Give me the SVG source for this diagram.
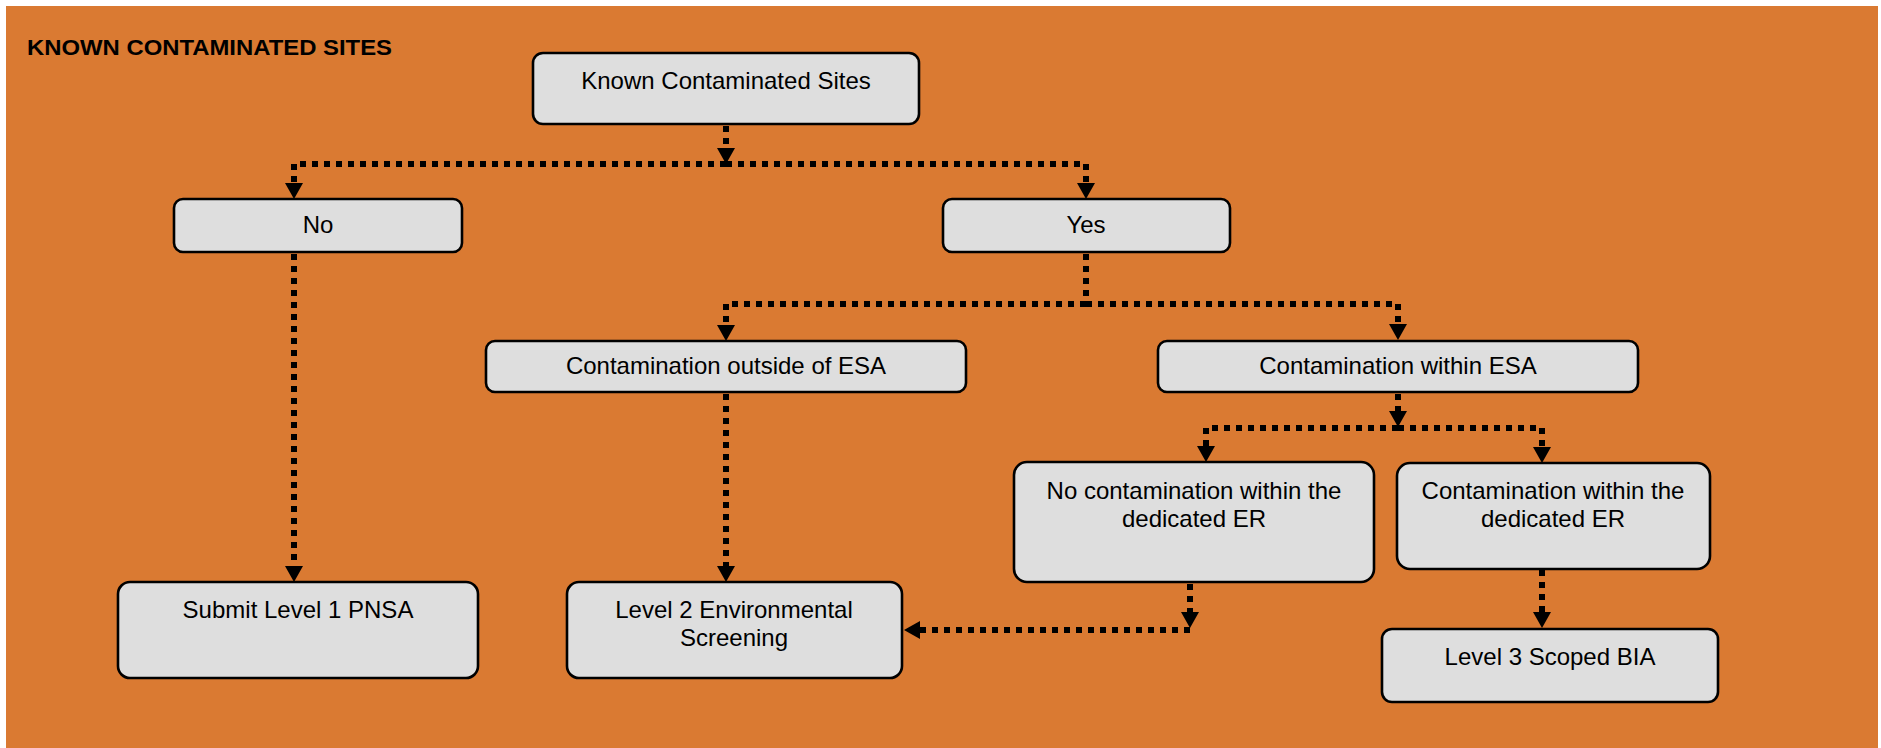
<svg xmlns="http://www.w3.org/2000/svg" width="1881" height="748" viewBox="0 0 1881 748">
<style>
.bg{fill:#DA7A32}
.box{fill:#DEDEDE;stroke:#000;stroke-width:2.6}
.t{font-family:"Liberation Sans",Arial,sans-serif;font-size:24px;fill:#000;text-anchor:middle}
.title{font-family:"Liberation Sans",Arial,sans-serif;font-size:22px;font-weight:bold;fill:#000}
.c{fill:none;stroke:#000;stroke-width:6;stroke-dasharray:6 6}
</style>
<defs>
<marker id="ah" markerUnits="userSpaceOnUse" markerWidth="17" markerHeight="18" refX="0" refY="9" orient="auto" overflow="visible">
<path d="M0,0 L16,9 L0,18 Z" fill="#000"/>
</marker>
</defs>
<rect x="0" y="0" width="1881" height="748" fill="#FFFFFF"/>
<rect class="bg" x="6" y="6" width="1872" height="742"/>
<text class="title" x="27" y="55" textLength="365" lengthAdjust="spacingAndGlyphs">KNOWN CONTAMINATED SITES</text>

<g id="connectors">
<path class="c" d="M726,126 V148" marker-end="url(#ah)"/>
<path class="c" d="M726,164 H294 V183" marker-end="url(#ah)"/>
<path class="c" d="M726,164 H1086 V183" marker-end="url(#ah)"/>
<path class="c" d="M1086,254 V304"/>
<path class="c" d="M1086,304 H726 V325" marker-end="url(#ah)"/>
<path class="c" d="M1086,304 H1398 V324" marker-end="url(#ah)"/>
<path class="c" d="M1398,394 V411" marker-end="url(#ah)"/>
<path class="c" d="M1398,428 H1206 V446" marker-end="url(#ah)"/>
<path class="c" d="M1398,428 H1542 V447" marker-end="url(#ah)"/>
<path class="c" d="M294,254 V566" marker-end="url(#ah)"/>
<path class="c" d="M726,394 V566" marker-end="url(#ah)"/>
<path class="c" d="M1190,584 V612" marker-end="url(#ah)"/>
<path class="c" d="M1190,630 H920" marker-end="url(#ah)"/>
<path class="c" d="M1542,570 V612" marker-end="url(#ah)"/>
</g>

<g id="n-known">
<rect class="box" x="533" y="53" width="386" height="71" rx="10"/>
<text class="t" x="726" y="89">Known Contaminated Sites</text>
</g>
<g id="n-no">
<rect class="box" x="174" y="199" width="288" height="53" rx="9"/>
<text class="t" x="318" y="233">No</text>
</g>
<g id="n-yes">
<rect class="box" x="943" y="199" width="287" height="53" rx="9"/>
<text class="t" x="1086" y="233">Yes</text>
</g>
<g id="n-outside">
<rect class="box" x="486" y="341" width="480" height="51" rx="9"/>
<text class="t" x="726" y="374">Contamination outside of ESA</text>
</g>
<g id="n-within">
<rect class="box" x="1158" y="341" width="480" height="51" rx="9"/>
<text class="t" x="1398" y="374">Contamination within ESA</text>
</g>
<g id="n-nocontam">
<rect class="box" x="1014" y="462" width="360" height="120" rx="13"/>
<text class="t" x="1194" y="499">No contamination within the</text>
<text class="t" x="1194" y="527">dedicated ER</text>
</g>
<g id="n-contam">
<rect class="box" x="1397" y="463" width="313" height="106" rx="13"/>
<text class="t" x="1553" y="499">Contamination within the</text>
<text class="t" x="1553" y="527">dedicated ER</text>
</g>
<g id="n-submit">
<rect class="box" x="118" y="582" width="360" height="96" rx="12"/>
<text class="t" x="298" y="618">Submit Level 1 PNSA</text>
</g>
<g id="n-level2">
<rect class="box" x="567" y="582" width="335" height="96" rx="12"/>
<text class="t" x="734" y="618">Level 2 Environmental</text>
<text class="t" x="734" y="646">Screening</text>
</g>
<g id="n-level3">
<rect class="box" x="1382" y="629" width="336" height="73" rx="10"/>
<text class="t" x="1550" y="665">Level 3 Scoped BIA</text>
</g>
</svg>
